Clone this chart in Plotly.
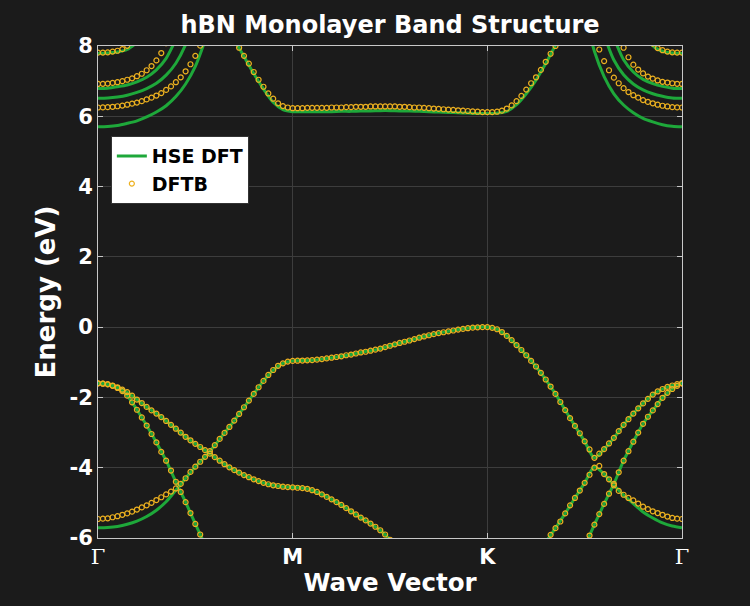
import plotly.graph_objects as go

# ---------------- data (energies in eV) ----------------
K_TICK_POS = [0, 1, 2, 3]
K_TICK_LABELS = ["Γ", "M", "K", "Γ"]
E_TICK_POS = [-6, -4, -2, 0, 2, 4, 6, 8]
E_TICK_LABELS = ["-6", "-4", "-2", "0", "2", "4", "6", "8"]

HSE_STEP = 0.05     # spacing of HSE samples along the k-path
DFTB_STEP = 0.025   # spacing of DFTB samples along the k-path

# ---- HSE DFT bands (start k, values) ----
hse_pi_top = [
    -5.71, -5.70, -5.67, -5.61, -5.52, -5.39, -5.21, -4.97, -4.64, -4.30,
    -3.97, -3.69, -3.36, -3.01, -2.66, -2.28, -1.90, -1.53, -1.22, -1.03,
    -0.96, -0.95, -0.94, -0.91, -0.87, -0.83, -0.78, -0.72, -0.67, -0.61,
    -0.53, -0.45, -0.38, -0.30, -0.23, -0.17, -0.12, -0.07, -0.03, -0.005,
    0.0, -0.06, -0.25, -0.51, -0.80, -1.12, -1.49, -1.90, -2.36, -2.81,
    -3.25, -3.72, -3.47, -3.15, -2.78, -2.46, -2.17, -1.92, -1.76, -1.66,
    -1.60]
hse_sigma_gentle = [
    -1.60, -1.62, -1.71, -1.85, -2.06, -2.27, -2.46, -2.67, -2.89, -3.12,
    -3.32, -3.50, -3.70, -3.90, -4.07, -4.21, -4.33, -4.43, -4.50, -4.54,
    -4.56, -4.58, -4.64, -4.76, -4.90, -5.06, -5.24, -5.42, -5.59, -5.78,
    -6.05]
hse_lower_kg = [-6.12, -5.72, -5.30, -4.86, -4.43, -3.98, -4.18, -4.50, -4.78, -5.02,
                -5.26, -5.43, -5.57, -5.66, -5.71]
hse_sigma_steep_gm = [-1.60, -1.63, -1.73, -1.95, -2.35, -2.80, -3.28, -3.80, -4.40, -4.98,
                      -5.60, -6.20]
hse_sigma_steep_kg = [-6.25, -5.62, -5.03, -4.46, -3.80, -3.26, -2.75, -2.37, -2.01, -1.76,
                      -1.60]
hse_cond_flat = [
    8.18, 7.70, 7.22, 6.78, 6.40, 6.19, 6.13, 6.13, 6.13, 6.13,
    6.13, 6.14, 6.14, 6.15, 6.15, 6.16, 6.16, 6.15, 6.15, 6.14,
    6.13, 6.12, 6.11, 6.10, 6.09, 6.08, 6.08, 6.09, 6.14, 6.33,
    6.64, 7.03, 7.50, 8.02, 8.50]
hse_c1_gm = [5.70, 5.71, 5.74, 5.80, 5.87, 5.98, 6.12, 6.30, 6.56, 6.92, 7.42, 8.16]
hse_c2_gm = [6.51, 6.52, 6.55, 6.60, 6.68, 6.79, 6.94, 7.17, 7.51, 8.04, 8.85]
hse_c3_gm = [6.79, 6.80, 6.84, 6.89, 6.98, 7.11, 7.32, 7.65, 8.19]
hse_c4_gm = [7.79, 7.80, 7.83, 7.90, 8.10]
hse_c1_kg = [8.97, 7.85, 7.13, 6.64, 6.32, 6.10, 5.94, 5.84, 5.76, 5.715, 5.70]
hse_c2_kg = [8.31, 7.60, 7.18, 6.92, 6.75, 6.64, 6.57, 6.52, 6.51]
hse_c3_kg = [8.24, 7.61, 7.26, 7.05, 6.93, 6.85, 6.80, 6.79]
hse_c4_kg = [8.50, 8.01, 7.85, 7.80, 7.79]

# ---- DFTB bands ----
dftb_pi_top = [
    -5.46, -5.45, -5.44, -5.41, -5.38, -5.34, -5.30, -5.25, -5.19, -5.13,
    -5.07, -5.00, -4.92, -4.84, -4.76, -4.68, -4.59, -4.46, -4.30, -4.12,
    -3.97, -3.83, -3.69, -3.53, -3.36, -3.18, -3.01, -2.84, -2.66, -2.47,
    -2.28, -2.09, -1.90, -1.71, -1.53, -1.36, -1.22, -1.10, -1.03, -0.98,
    -0.96, -0.955, -0.95, -0.945, -0.94, -0.925, -0.91, -0.89, -0.87, -0.85,
    -0.83, -0.80, -0.78, -0.75, -0.72, -0.70, -0.67, -0.64, -0.61, -0.57,
    -0.53, -0.49, -0.45, -0.415, -0.38, -0.34, -0.30, -0.265, -0.23, -0.20,
    -0.17, -0.145, -0.12, -0.095, -0.07, -0.05, -0.03, -0.015, -0.005, 0.0,
    0.0, -0.02, -0.06, -0.14, -0.25, -0.37, -0.51, -0.65, -0.80, -0.96,
    -1.12, -1.30, -1.49, -1.69, -1.90, -2.13, -2.36, -2.59, -2.81, -3.02,
    -3.25, -3.48, -3.72, -3.60, -3.47, -3.31, -3.15, -2.96, -2.78, -2.62,
    -2.46, -2.31, -2.17, -2.04, -1.92, -1.83, -1.76, -1.70, -1.66, -1.62,
    -1.60]
dftb_sigma_gentle = [
    -1.60, -1.605, -1.62, -1.66, -1.71, -1.78, -1.85, -1.95, -2.06, -2.16,
    -2.27, -2.37, -2.46, -2.56, -2.67, -2.78, -2.89, -3.00, -3.12, -3.22,
    -3.32, -3.41, -3.50, -3.60, -3.70, -3.80, -3.90, -3.99, -4.07, -4.14,
    -4.21, -4.27, -4.33, -4.38, -4.43, -4.47, -4.50, -4.52, -4.54, -4.55,
    -4.56, -4.57, -4.58, -4.60, -4.64, -4.69, -4.76, -4.83, -4.90, -4.98,
    -5.06, -5.15, -5.24, -5.33, -5.42, -5.50, -5.59, -5.68, -5.78, -5.90,
    -6.05]
dftb_lower_kg = [
    -6.12, -5.91, -5.72, -5.53, -5.30, -5.07, -4.86, -4.65, -4.43, -4.20,
    -4.00, -3.95, -4.18, -4.33, -4.50, -4.66, -4.77, -4.86, -4.93, -5.02,
    -5.11, -5.18, -5.24, -5.29, -5.34, -5.39, -5.43, -5.45, -5.46]
dftb_sigma_steep_gm = [
    -1.60, -1.61, -1.63, -1.67, -1.73, -1.82, -1.95, -2.14, -2.35, -2.57,
    -2.80, -3.04, -3.28, -3.55, -3.80, -4.08, -4.40, -4.69, -4.98, -5.29,
    -5.60, -5.90, -6.20]
dftb_sigma_steep_kg = [
    -6.25, -5.93, -5.62, -5.32, -5.03, -4.74, -4.46, -4.13, -3.80, -3.53,
    -3.26, -3.00, -2.75, -2.55, -2.37, -2.19, -2.01, -1.87, -1.76, -1.67,
    -1.60]
dftb_cond_flat = [
    8.18, 7.95, 7.72, 7.50, 7.26, 7.04, 6.84, 6.65, 6.50, 6.37,
    6.29, 6.25, 6.23, 6.23, 6.23, 6.24, 6.24, 6.24, 6.24, 6.24,
    6.25, 6.25, 6.25, 6.26, 6.26, 6.27, 6.27, 6.27, 6.28, 6.28,
    6.28, 6.28, 6.28, 6.28, 6.27, 6.27, 6.26, 6.25, 6.25, 6.24,
    6.23, 6.22, 6.21, 6.20, 6.19, 6.18, 6.17, 6.16, 6.15, 6.14,
    6.13, 6.12, 6.12, 6.12, 6.13, 6.16, 6.22, 6.31, 6.43, 6.58,
    6.76, 6.94, 7.11, 7.32, 7.55, 7.78, 8.00, 8.22]
dftb_c1_gm = [6.25, 6.252, 6.26, 6.27, 6.285, 6.305, 6.33, 6.36, 6.39, 6.43,
              6.48, 6.53, 6.59, 6.66, 6.75, 6.85, 6.97, 7.11, 7.28, 7.48,
              7.72, 8.01, 8.37]
dftb_c2_gm = [6.92, 6.923, 6.93, 6.95, 6.97, 7.00, 7.04, 7.08, 7.14, 7.21,
              7.31, 7.43, 7.59, 7.80, 8.08, 8.44]
dftb_c3_gm = [7.81, 7.813, 7.82, 7.84, 7.865, 7.91, 8.005, 8.18]
dftb_c1_kg = [8.30, 7.90, 7.57, 7.31, 7.10, 6.94, 6.80, 6.69, 6.60, 6.53,
              6.46, 6.41, 6.37, 6.33, 6.30, 6.28, 6.26, 6.253, 6.25]
dftb_c2_kg = [8.32, 7.95, 7.68, 7.47, 7.33, 7.22, 7.13, 7.07, 7.02, 6.98,
              6.96, 6.94, 6.924, 6.92]
dftb_c3_kg = [8.07, 7.94, 7.88, 7.84, 7.82, 7.813, 7.81]

HSE_BANDS = [
    (0.0, hse_pi_top), (0.0, hse_sigma_gentle), (2.3, hse_lower_kg),
    (0.0, hse_sigma_steep_gm), (2.5, hse_sigma_steep_kg), (0.7, hse_cond_flat),
    (0.0, hse_c1_gm), (0.0, hse_c2_gm), (0.0, hse_c3_gm), (0.0, hse_c4_gm),
    (2.5, hse_c1_kg), (2.6, hse_c2_kg), (2.65, hse_c3_kg), (2.8, hse_c4_kg),
]
DFTB_BANDS = [
    (0.0, dftb_pi_top), (0.0, dftb_sigma_gentle), (2.3, dftb_lower_kg),
    (0.0, dftb_sigma_steep_gm), (2.5, dftb_sigma_steep_kg), (0.7, dftb_cond_flat),
    (0.0, dftb_c1_gm), (0.0, dftb_c2_gm), (0.0, dftb_c3_gm),
    (2.55, dftb_c1_kg), (2.675, dftb_c2_kg), (2.85, dftb_c3_kg),
]

# ---------------- styling ----------------
BG = "#1b1b1b"
GREEN = "#1ea83a"
GOLD = "#EDB120"
FRAME = "#c8c8c8"
GRID = "#3d3d3d"
FONT = "DejaVu Sans"


def kgrid(start, step, n):
    return [round(start + i * step, 4) for i in range(n)]


fig = go.Figure()

for i, (k0, vals) in enumerate(HSE_BANDS):
    fig.add_trace(go.Scatter(
        x=kgrid(k0, HSE_STEP, len(vals)), y=vals, mode="lines",
        line=dict(color=GREEN, width=3, shape="spline", smoothing=0.8),
        name="HSE DFT", legendgroup="hse", showlegend=(i == 0),
        hoverinfo="skip"))

for i, (k0, vals) in enumerate(DFTB_BANDS):
    fig.add_trace(go.Scatter(
        x=kgrid(k0, DFTB_STEP, len(vals)), y=vals, mode="markers",
        marker=dict(symbol="circle-open", size=5, color=GOLD,
                    line=dict(width=1.2, color=GOLD)),
        name="DFTB", legendgroup="dftb", showlegend=(i == 0),
        hoverinfo="skip"))

gamma = "<span style='font-family:DejaVu Serif;font-weight:normal'>Γ</span>"
tick_text = [gamma if t == "Γ" else t for t in K_TICK_LABELS]

axis_common = dict(
    showline=True, linecolor=FRAME, linewidth=1, mirror="ticks",
    ticks="inside", ticklen=5, tickcolor=FRAME, tickwidth=1,
    showgrid=True, gridcolor=GRID, gridwidth=1, zeroline=False,
    tickfont=dict(family=FONT, size=21, color="white", weight="bold"),
)

fig.update_layout(
    width=750, height=606,
    paper_bgcolor=BG, plot_bgcolor=BG,
    margin=dict(l=98, r=68, t=46, b=68),
    title=dict(text="hBN Monolayer Band Structure", x=0.5, xref="paper",
               xanchor="center", y=1 - 25 / 606, yref="container", yanchor="middle",
               font=dict(family=FONT, size=24, color="white", weight="bold")),
    xaxis=dict(range=[0, 3], tickvals=K_TICK_POS, ticktext=tick_text,
               title=dict(text="Wave Vector", standoff=5,
                          font=dict(family=FONT, size=24.5, color="white", weight="bold")),
               **axis_common),
    yaxis=dict(range=[-6, 8], tickvals=E_TICK_POS, ticktext=E_TICK_LABELS,
               title=dict(text="Energy (eV)", standoff=6,
                          font=dict(family=FONT, size=26, color="white", weight="bold")),
               **axis_common),
    legend=dict(x=0.022, y=0.817, xanchor="left", yanchor="top",
                bgcolor="white", bordercolor="#333333", borderwidth=1,
                font=dict(family=FONT, size=19, color="black", weight="bold"),
                itemwidth=30, tracegroupgap=0),
    showlegend=True,
)

fig.write_html("out.html")
